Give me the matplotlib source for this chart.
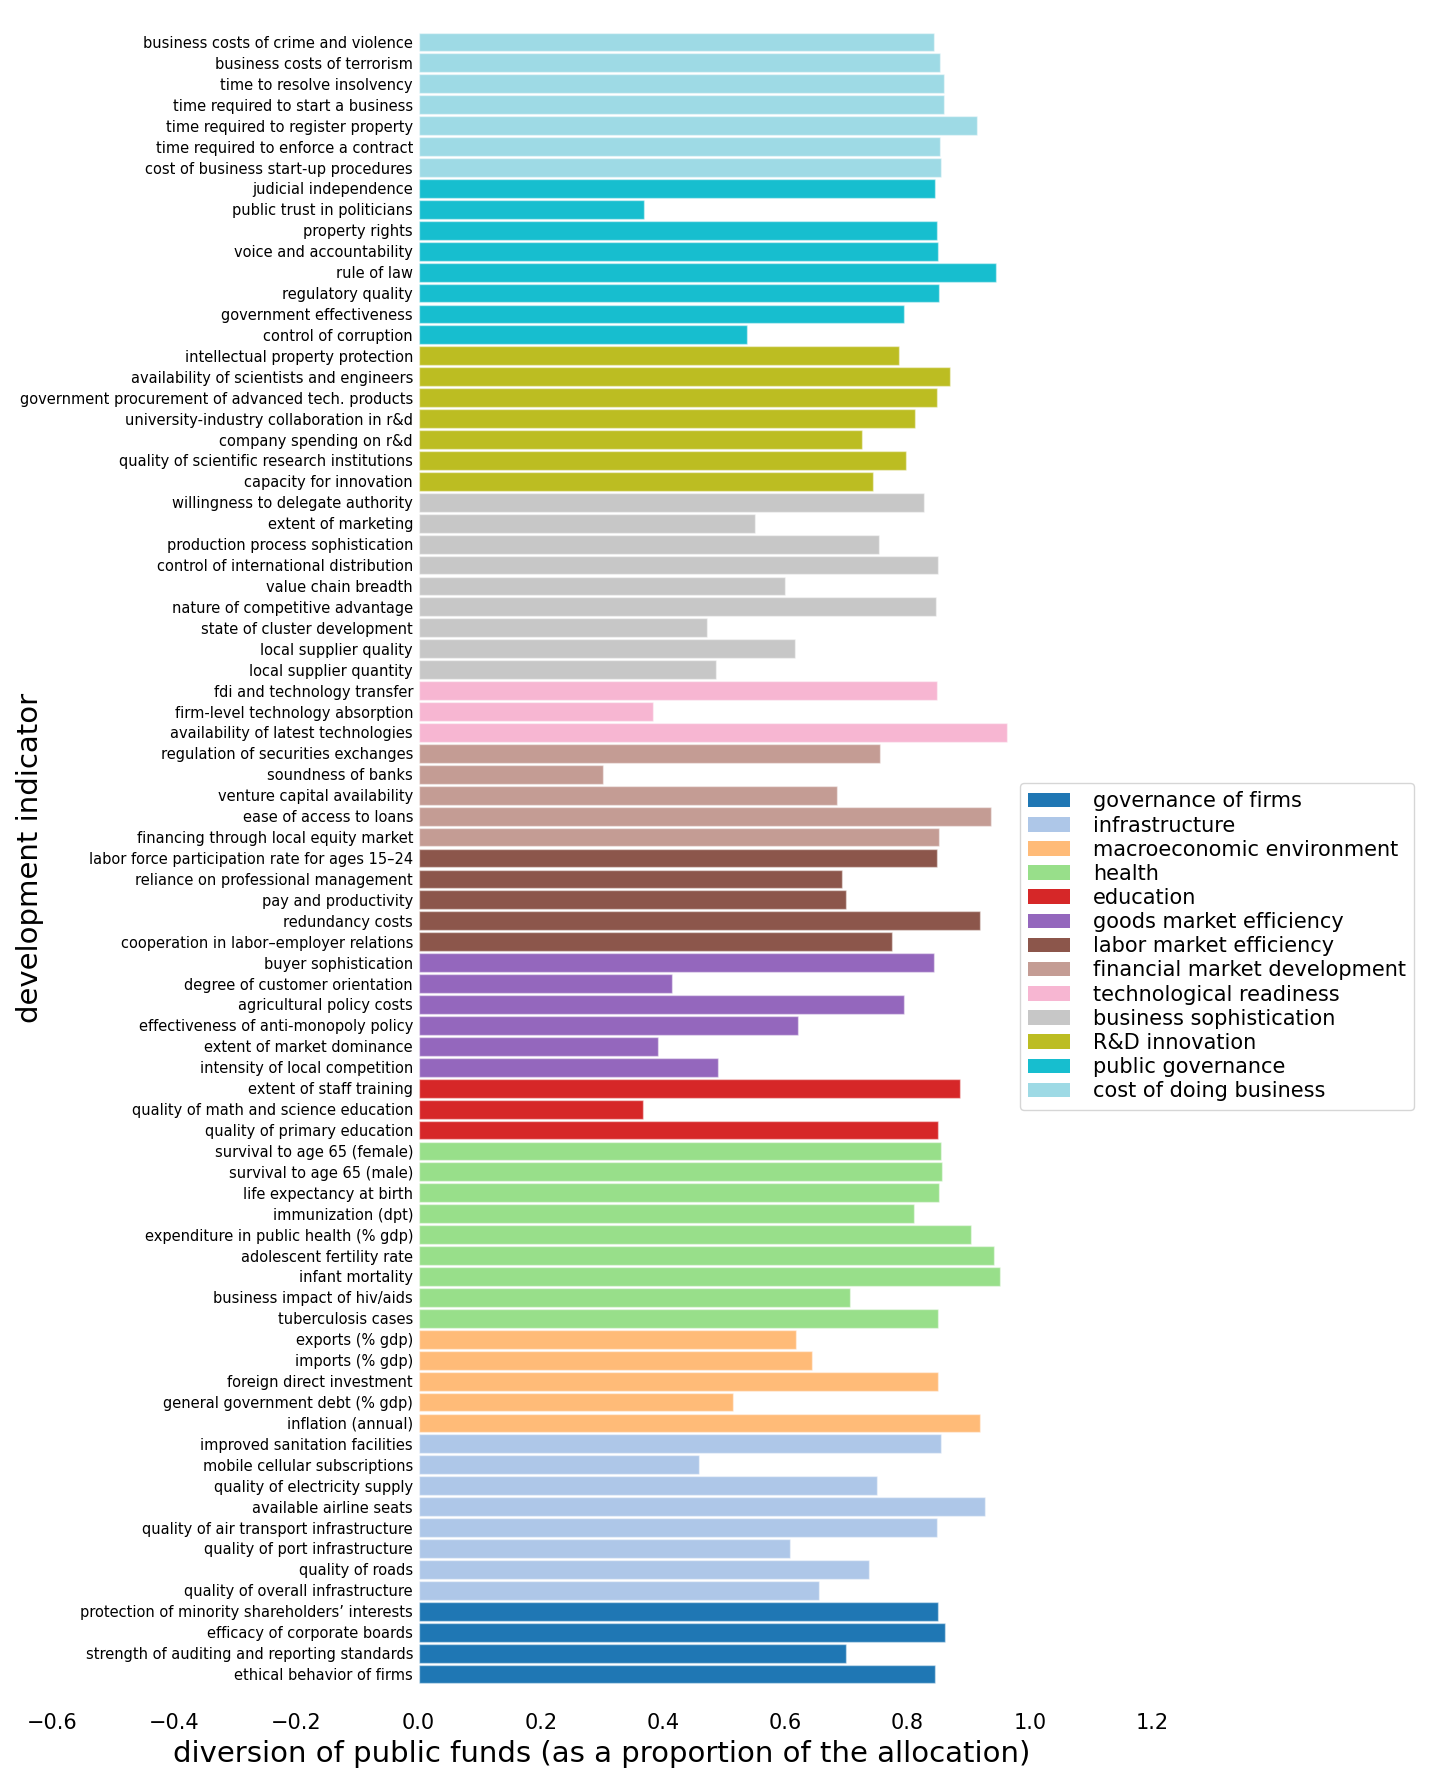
import matplotlib
matplotlib.use("Agg")
import matplotlib.pyplot as plt
from matplotlib.patches import Patch
import numpy as np

plt.rcParams['font.family'] = ['DejaVu Sans']

# groups, bottom to top
groups = ["governance of firms", "infrastructure", "macroeconomic environment", "health",
          "education", "goods market efficiency", "labor market efficiency",
          "financial market development", "technological readiness",
          "business sophistication", "R&D innovation", "public governance",
          "cost of doing business"]
group_colors = ["#1f77b4", "#aec7e8", "#ffbb78", "#98df8a", "#d62728", "#9467bd",
                "#8c564b", "#c49c94", "#f7b6d2", "#c7c7c7", "#bcbd22", "#17becf", "#9edae5"]

governance_firms = ["ethical behavior of firms", "strength of auditing and reporting standards",
                    "efficacy of corporate boards", "protection of minority shareholders\u2019 interests"]
governance_firms_vals = [0.845, 0.700, 0.861, 0.850]

infrastructure = ["quality of overall infrastructure", "quality of roads", "quality of port infrastructure",
                  "quality of air transport infrastructure", "available airline seats",
                  "quality of electricity supply", "mobile cellular subscriptions",
                  "improved sanitation facilities"]
infrastructure_vals = [0.655, 0.737, 0.608, 0.849, 0.926, 0.750, 0.459, 0.854]

macro = ["inflation (annual)", "general government debt (% gdp)", "foreign direct investment",
         "imports (% gdp)", "exports (% gdp)"]
macro_vals = [0.918, 0.514, 0.850, 0.643, 0.618]

health = ["tuberculosis cases", "business impact of hiv/aids", "infant mortality",
          "adolescent fertility rate", "expenditure in public health (% gdp)", "immunization (dpt)",
          "life expectancy at birth", "survival to age 65 (male)", "survival to age 65 (female)"]
health_vals = [0.850, 0.706, 0.952, 0.942, 0.904, 0.810, 0.852, 0.856, 0.855]

education = ["quality of primary education", "quality of math and science education",
             "extent of staff training"]
education_vals = [0.850, 0.367, 0.886]

goods_market = ["intensity of local competition", "extent of market dominance",
                "effectiveness of anti-monopoly policy", "agricultural policy costs",
                "degree of customer orientation", "buyer sophistication"]
goods_market_vals = [0.490, 0.391, 0.620, 0.795, 0.415, 0.844]

labor_market = ["cooperation in labor\u2013employer relations", "redundancy costs", "pay and productivity",
                "reliance on professional management", "labor force participation rate for ages 15\u201324"]
labor_market_vals = [0.775, 0.918, 0.700, 0.692, 0.848]

financial = ["financing through local equity market", "ease of access to loans",
             "venture capital availability", "soundness of banks", "regulation of securities exchanges"]
financial_vals = [0.852, 0.937, 0.684, 0.302, 0.755]

technology = ["availability of latest technologies", "firm-level technology absorption",
              "fdi and technology transfer"]
technology_vals = [0.962, 0.384, 0.849]

business_soph = ["local supplier quantity", "local supplier quality", "state of cluster development",
                 "nature of competitive advantage", "value chain breadth",
                 "control of international distribution", "production process sophistication",
                 "extent of marketing", "willingness to delegate authority"]
business_soph_vals = [0.486, 0.616, 0.472, 0.846, 0.599, 0.850, 0.754, 0.550, 0.827]

rd_innovation = ["capacity for innovation", "quality of scientific research institutions",
                 "company spending on r&d", "university-industry collaboration in r&d",
                 "government procurement of advanced tech. products",
                 "availability of scientists and engineers", "intellectual property protection"]
rd_innovation_vals = [0.744, 0.798, 0.726, 0.812, 0.848, 0.870, 0.786]

public_gov = ["control of corruption", "government effectiveness", "regulatory quality", "rule of law",
              "voice and accountability", "property rights", "public trust in politicians",
              "judicial independence"]
public_gov_vals = [0.538, 0.794, 0.852, 0.945, 0.850, 0.849, 0.369, 0.845]

cost_business = ["cost of business start-up procedures", "time required to enforce a contract",
                 "time required to register property", "time required to start a business",
                 "time to resolve insolvency", "business costs of terrorism",
                 "business costs of crime and violence"]
cost_business_vals = [0.854, 0.853, 0.914, 0.860, 0.859, 0.853, 0.844]

group_names = [governance_firms, infrastructure, macro, health, education, goods_market,
               labor_market, financial, technology, business_soph, rd_innovation, public_gov,
               cost_business]
group_vals = [governance_firms_vals, infrastructure_vals, macro_vals, health_vals, education_vals,
              goods_market_vals, labor_market_vals, financial_vals, technology_vals,
              business_soph_vals, rd_innovation_vals, public_gov_vals, cost_business_vals]

labels, values, colors = [], [], []
for names, vals, col in zip(group_names, group_vals, group_colors):
    labels += names
    values += vals
    colors += [col] * len(names)

W, H = 1431, 1784
fig = plt.figure(figsize=(W / 100, H / 100), dpi=100)
ax = fig.add_axes([52 / W, 1 - 1684.5 / H, 1100 / W, (1684.5 - 31.5) / H])

y = np.arange(len(labels))
ax.barh(y, values, height=0.9, color=colors, edgecolor=(1, 1, 1, 0.45), linewidth=1.0)
ax.spines['left'].set_position(('data', 0))
for s in ax.spines.values():
    s.set_visible(False)
ax.set_ylim(-0.5, len(labels) - 0.5)
ax.set_xlim(-0.6, 1.2)
ax.set_xticks(np.arange(-0.6, 1.21, 0.2))
ax.set_yticks(y)
ax.set_yticklabels(labels)
ax.tick_params(axis='y', length=0, pad=4, labelsize=10.5)
ax.tick_params(axis='x', length=0, labelsize=15, pad=20.5)
ax.set_xlabel("diversion of public funds (as a proportion of the allocation)", fontsize=21)
ax.xaxis.set_label_coords(0.5, -0.0335)
ax.set_ylabel("development indicator", fontsize=21)
ax.yaxis.set_label_coords(-0.0075, 0.5)

handles = [Patch(facecolor=c, label=g) for g, c in zip(groups, group_colors)]
fig.legend(handles=handles, loc='upper left', bbox_to_anchor=(1020 / W, 1 - 783 / H),
           fontsize=15, handletextpad=1.1, borderaxespad=0, labelspacing=0.2, frameon=True)

fig.savefig("out.png", dpi=100)
